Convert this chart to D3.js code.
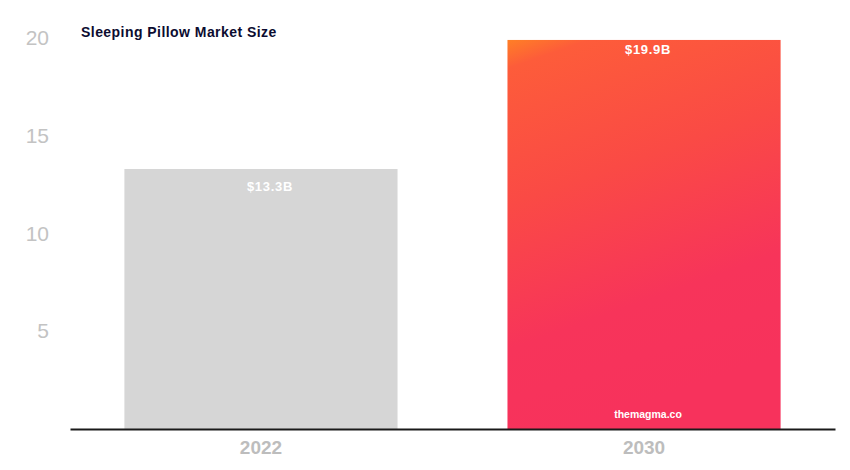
<!DOCTYPE html>
<html><head><meta charset="utf-8">
<script src="https://cdn.jsdelivr.net/npm/d3@7"></script>
<style>html,body{margin:0;padding:0;background:#fff;}svg{display:block;}</style>
</head><body>
<svg id="chart" width="850" height="470"></svg>
<script>
const categories = ["2022", "2030"];
const values = [13.3, 19.9];
const valueLabels = ["$13.3B", "$19.9B"];
const yTicks = [5, 10, 15, 20];
const title = "Sleeping Pillow Market Size";
const watermark = "themagma.co";

const svg = d3.select("#chart");
const font = "Helvetica, Arial, 'Liberation Sans', sans-serif";

const x = d3.scaleBand().domain(categories).range([70, 835]).paddingInner(0.287).paddingOuter(0.142);
const y = d3.scaleLinear().domain([0, 20]).range([429, 38]);

const defs = svg.append("defs");
const g = defs.append("linearGradient").attr("id", "grad")
  .attr("x1", "0").attr("y1", "0").attr("x2", "0.25").attr("y2", "1");
[[0, "#ff7f26"], [0.07, "#fd5c3a"], [0.4, "#fa4a45"], [0.75, "#f7345a"], [1, "#f7325c"]]
  .forEach(([o, c]) => g.append("stop").attr("offset", o).attr("stop-color", c));

const fills = ["#d6d6d6", "url(#grad)"];
const labelOffsets = [17, 9];
const labelShift = [9, 4];

// y axis
const yAxis = d3.axisLeft(y).tickValues(yTicks).tickSize(0).tickPadding(0);
const ya = svg.append("g").attr("transform", "translate(49,0)").call(yAxis);
ya.select(".domain").remove();
ya.selectAll("text").attr("fill", "#c3c3c3").style("font-size", "21px").style("font-family", font);

// bars
svg.selectAll("rect.bar").data(categories).join("rect").attr("class", "bar")
  .attr("x", d => x(d)).attr("width", x.bandwidth())
  .attr("y", (d, i) => y(values[i])).attr("height", (d, i) => y(0) - y(values[i]))
  .attr("fill", (d, i) => fills[i]);

// value labels
svg.selectAll("text.val").data(categories).join("text").attr("class", "val")
  .attr("x", (d, i) => x(d) + x.bandwidth() / 2 + labelShift[i])
  .attr("y", (d, i) => y(values[i]) + labelOffsets[i])
  .attr("dy", "0.35em").attr("text-anchor", "middle")
  .attr("fill", "#fff").style("font-weight", "bold").style("font-size", "13px")
  .style("letter-spacing", "0.7px").style("font-family", font)
  .text((d, i) => valueLabels[i]);

// watermark
svg.append("text").attr("x", x("2030") + x.bandwidth() / 2 + 4).attr("y", y(0) - 15)
  .attr("dy", "0.35em").attr("text-anchor", "middle")
  .attr("fill", "#fff").style("font-weight", "bold").style("font-size", "10.5px").style("font-family", font)
  .text(watermark);

// x axis
const xAxis = d3.axisBottom(x).tickSize(0).tickPadding(12);
const xa = svg.append("g").attr("transform", `translate(0,${y(0)})`).call(xAxis);
xa.select(".domain").attr("stroke", "#1a1a1a").attr("stroke-width", 2);
xa.selectAll("text").attr("fill", "#bdbdbd").style("font-size", "19px").style("font-weight", "bold").style("font-family", font);

// title
svg.append("text").attr("x", 81).attr("y", 37)
  .attr("fill", "#0c0c30").style("font-weight", "bold").style("font-size", "14px")
  .style("letter-spacing", "0.45px").style("font-family", font)
  .text(title);
</script>
</body></html>
